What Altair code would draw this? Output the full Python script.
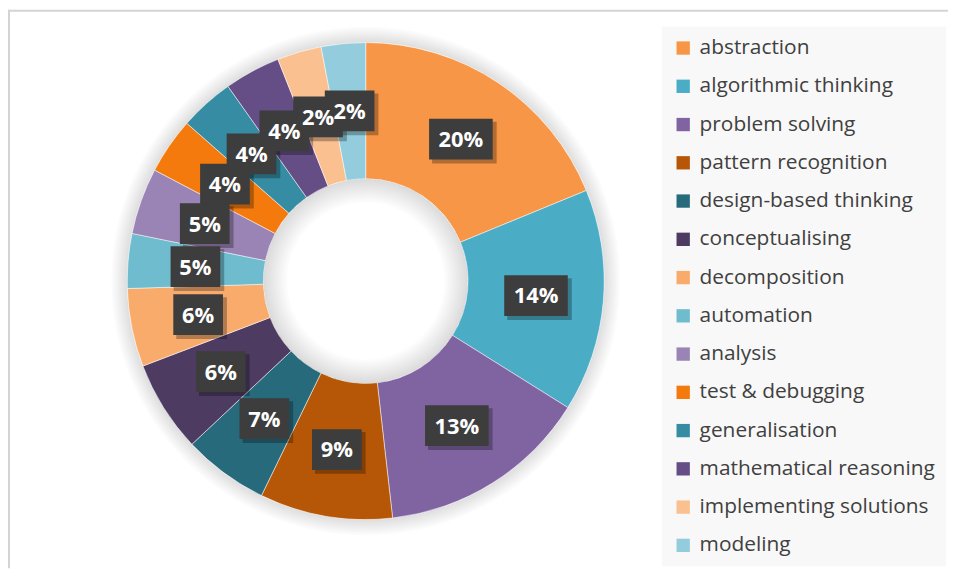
import math
import altair as alt
import pandas as pd

# ---- data ----
categories = [
    "abstraction", "algorithmic thinking", "problem solving", "pattern recognition",
    "design-based thinking", "conceptualising", "decomposition", "automation",
    "analysis", "test & debugging", "generalisation", "mathematical reasoning",
    "implementing solutions", "modeling",
]
# angular share of each slice
shares = [18.8, 15.1, 14.3, 9.0, 5.8, 6.2, 5.3, 3.7, 4.5, 3.8, 3.7, 3.8, 3.0, 3.0]
# label text printed on each slice
labels = ["20%", "14%", "13%", "9%", "7%", "6%", "6%", "5%", "5%", "4%", "4%", "4%", "2%", "2%"]
colors = [
    "#F79646", "#4BACC6", "#8064A2", "#B65708", "#276A7C", "#4D3B62", "#F9AB6B",
    "#70BCCF", "#9A83B5", "#F47A0E", "#358CA3", "#654E86", "#FAC090", "#93CDDD",
]

df = pd.DataFrame({
    "category": categories,
    "share": shares,
    "label": labels,
    "order": list(range(len(categories))),
})

# ---- layout constants ----
W, H = 946, 562
CX, CY = 360, 273
R_OUT, R_IN = 240, 103
R_LAB = 172
FONT = "Open Sans"

one = alt.Data(values=[{"k": 0}])

def ring(r1, r2, op):
    return alt.Chart(one).mark_arc(
        theta=0, theta2=2 * math.pi, innerRadius=r1, outerRadius=r2,
        color="black", opacity=op, strokeWidth=0,
    ).encode(x=alt.value(CX), y=alt.value(CY))

outer_glow = [ring(R_OUT, R_OUT + d, 0.014) for d in range(2, 18, 2)]
inner_glow = [ring(R_IN - d, R_IN, 0.012) for d in range(2, 26, 2)]

base = alt.Chart(df)

arcs = base.mark_arc(
    outerRadius=R_OUT, innerRadius=R_IN, stroke="white", strokeWidth=0.5
).encode(
    theta=alt.Theta("share:Q", stack=True),
    order=alt.Order("order:Q"),
    color=alt.Color(
        "category:N",
        sort=categories,
        scale=alt.Scale(domain=categories, range=colors),
        legend=alt.Legend(
            orient="none", legendX=658, legendY=17, title=None,
            symbolType="square", symbolSize=180, symbolStrokeWidth=0,
            labelFont=FONT, labelFontSize=21, labelColor="#404040",
            labelOffset=6, rowPadding=16.5, padding=11,
            fillColor="#f8f8f8", labelLimit=400,
        ),
    ),
    x=alt.value(CX),
    y=alt.value(CY),
)

pos = base.transform_window(
    cum="sum(share)", sort=[alt.SortField("order")], frame=[None, 0]
).transform_joinaggregate(
    total="sum(share)"
).transform_calculate(
    mid="(datum.cum - datum.share / 2) / datum.total * 2 * PI"
).transform_calculate(
    px=f"{CX} + {R_LAB} * sin(datum.mid)"
).transform_calculate(
    py=f"{CY} - {R_LAB} * cos(datum.mid)"
).transform_calculate(
    bw="14 * length(datum.label) + 22"
).transform_calculate(
    x1="datum.px - datum.bw / 2", x2="datum.px + datum.bw / 2",
    y1="datum.py - 20.5", y2="datum.py + 20.5",
    sx1="datum.px - datum.bw / 2 + 3", sx2="datum.px + datum.bw / 2 + 4",
    sy1="datum.py - 20.5 + 3", sy2="datum.py + 20.5 + 4",
)

xscale = alt.Scale(domain=[0, W], nice=False, zero=False)
yscale = alt.Scale(domain=[H, 0], nice=False, zero=False)

box_shadow = pos.mark_rect(color="black", opacity=0.28).encode(
    x=alt.X("sx1:Q", scale=xscale, axis=None), x2="sx2:Q",
    y=alt.Y("sy1:Q", scale=yscale, axis=None), y2="sy2:Q",
)
boxes = pos.mark_rect(color="#3d3d3d").encode(
    x=alt.X("x1:Q", scale=xscale, axis=None), x2="x2:Q",
    y=alt.Y("y1:Q", scale=yscale, axis=None), y2="y2:Q",
)
texts = pos.mark_text(
    font=FONT, fontWeight="bold", fontSize=22, color="white",
    align="center", baseline="middle", dy=1,
).encode(
    x=alt.X("px:Q", scale=xscale, axis=None),
    y=alt.Y("py:Q", scale=yscale, axis=None),
    text="label:N",
)

border_top = alt.Chart(one).mark_rule(color="#d4d4d4", strokeWidth=2).encode(
    x=alt.value(0), x2=alt.value(W), y=alt.value(1)
)
border_left = alt.Chart(one).mark_rule(color="#d4d4d4", strokeWidth=2).encode(
    x=alt.value(1), y=alt.value(0), y2=alt.value(H)
)

chart = alt.layer(
    *outer_glow, arcs, *inner_glow, box_shadow, boxes, texts, border_top, border_left
).properties(
    width=W, height=H, padding=0,
    autosize=alt.AutoSizeParams(type="none"),
    background="white",
).configure_view(stroke=None)

chart.save("out.html", embed_options={"renderer": "svg", "actions": False})
